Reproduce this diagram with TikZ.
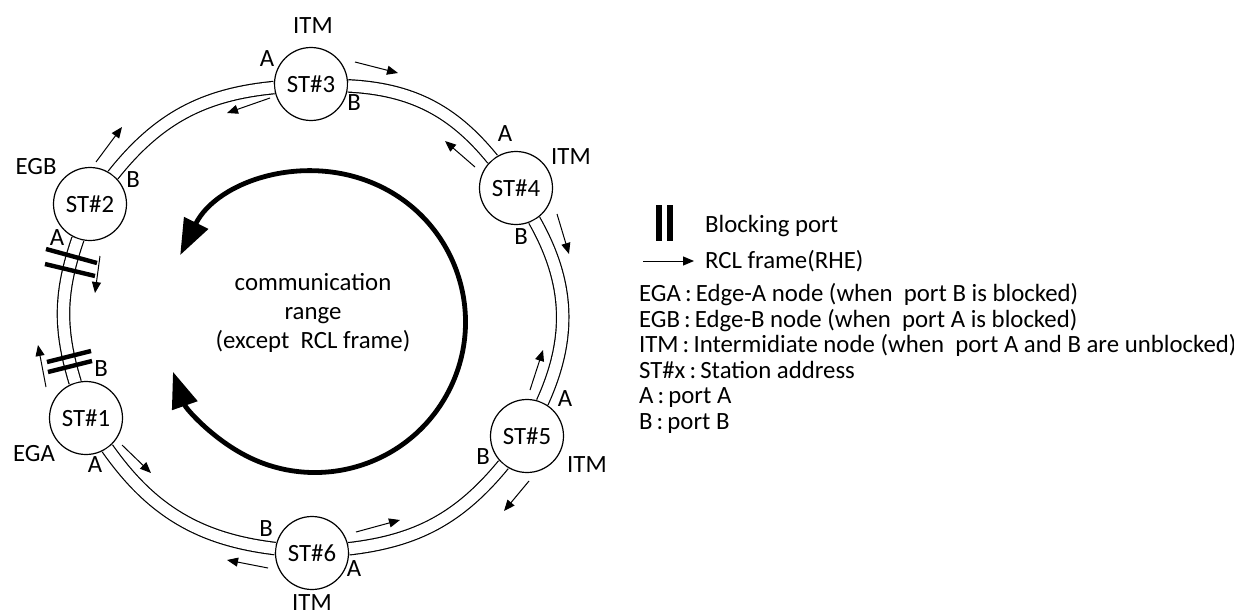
\documentclass[tikz,border=0pt]{standalone}
\usepackage{fontspec}
\setmainfont{Carlito}
\usetikzlibrary{arrows.meta}

\begin{document}
\begin{tikzpicture}[x=0.5pt, y=-0.5pt, font=\fontsize{12.4pt}{14.5pt}\selectfont,
	station/.style={shape=circle,draw=black,fill=white,line width=0.6pt,minimum size=36.5pt,inner sep=0pt},
	portlabel/.style={inner sep=1pt},
	ring/.style={-,line width=0.6pt,double,double distance=5.6pt},
	rcl/.style={-{Triangle[length=5.5pt,width=4.5pt]},line width=0.5pt},
	blockbar/.style={line width=2.2pt},
	legendbar/.style={line width=3pt},
	rangearc/.style={{Triangle[length=18pt,width=13pt]}-{Triangle[length=18pt,width=13pt]},line width=2.4pt}]
	
	\useasboundingbox (0,0) rectangle (1234,615);
	
	\node[station] (st1) at (86, 418)     {ST\#1};
	\node[station] (st2) at (90, 204)     {ST\#2};
	\node[station] (st3) at (311, 84)     {ST\#3};
	\node[station] (st4) at (516, 188)    {ST\#4};
	\node[station] (st5) at (527, 436)    {ST\#5};
	\node[station] (st6) at (312, 553)    {ST\#6};
	
	\draw[ring] (st3) to[bend left=24] (st4);
	\draw[ring] (st4) to[bend left=27] (st5);
	\draw[ring] (st5) to[bend left=22] (st6);
	\draw[ring] (st6) to[bend left=24] (st1);
	\draw[ring] (st1) to[bend left=18] (st2);
	\draw[ring] (st2) to[bend left=23] (st3);
	
	% port and mode labels
	\node[portlabel] (st3mode) at (313, 26)   {ITM};
	\node[portlabel] (st3a)    at (267, 59)   {A};
	\node[portlabel] (st3b)    at (354, 103)  {B};
	\node[portlabel] (st4a)    at (505, 134)  {A};
	\node[portlabel] (st4mode) at (571, 157)  {ITM};
	\node[portlabel] (st4b)    at (521, 237)  {B};
	\node[portlabel] (st2mode) at (36, 167)   {EGB};
	\node[portlabel] (st2b)    at (133, 180)  {B};
	\node[portlabel] (st2a)    at (57, 238)   {A};
	\node[portlabel] (st1b)    at (101, 369)  {B};
	\node[portlabel] (st1mode) at (34, 454)   {EGA};
	\node[portlabel] (st1a)    at (95, 465)   {A};
	\node[portlabel] (st5a)    at (565, 399)  {A};
	\node[portlabel] (st5b)    at (483, 457)  {B};
	\node[portlabel] (st5mode) at (587, 465)  {ITM};
	\node[portlabel] (st6b)    at (266, 529)  {B};
	\node[portlabel] (st6a)    at (354, 569)  {A};
	\node[portlabel] (st6mode) at (312, 603)  {ITM};
	
	% RCL frames
	\draw[rcl] (355, 62) -- (398, 73);
	\draw[rcl] (270, 98) -- (227, 113);
	\draw[rcl] (475, 167) -- (445, 141);
	\draw[rcl] (557, 214) -- (569, 254);
	\draw[rcl] (530, 390) -- (543, 350);
	\draw[rcl] (529, 481) -- (504, 511);
	\draw[rcl] (356, 532) -- (400, 520);
	\draw[rcl] (268, 568) -- (227, 560);
	\draw[rcl] (122, 445) -- (151, 473);
	\draw[rcl] (46, 387) -- (38, 345);
	\draw[rcl] (100, 256) -- (95, 293);
	\draw[rcl] (96, 162) -- (122, 127);
	
	% blocked ports
	\draw[blockbar] (46, 249) -- (97, 263);
	\draw[blockbar] (45, 264) -- (95, 276);
	\draw[blockbar] (47, 362) -- (91, 351);
	\draw[blockbar] (48, 372) -- (92, 361);
	
	\coordinate (rangecenter) at (315, 322);
	\draw[rangearc] (rangecenter) ++(206.4:150.5) arc[start angle=206.4, end angle=520.7, radius=150.5];
	\node[align=center] (range) at (313, 313) {communication\\range\\(except\ \ RCL frame)};
	
	% legend
	\draw[legendbar] (659, 205) -- (659, 241);
	\draw[legendbar] (670, 205) -- (670, 241);
	\node[anchor=west] (blocktxt) at (698, 226) {Blocking port};
	\node[anchor=west] (rcltxt)   at (698, 261) {RCL frame(RHE)};
	\coordinate (rclfrom) at (643, 261);
	\draw[rcl] (rclfrom) -- ([xshift=-2pt]rcltxt.west);
	\node[anchor=base west] (ega)  at (632, 301)   {EGA\,:\,Edge-A node (when\ \ port B is blocked)};
	\node[anchor=base west] (egb)  at (632, 327) {EGB\,:\,Edge-B node (when\ \ port A is blocked)};
	\node[anchor=base west] (itm)  at (632, 352)   {ITM\,:\,Intermidiate node (when\ \ port A and B are unblocked)};
	\node[anchor=base west] (stx)  at (632, 378) {ST\#x\,:\,Station address};
	\node[anchor=base west] (porta) at (632, 403)  {A\,:\,port A};
	\node[anchor=base west] (portb) at (632, 429) {B\,:\,port B};
	
\end{tikzpicture}
\end{document}
